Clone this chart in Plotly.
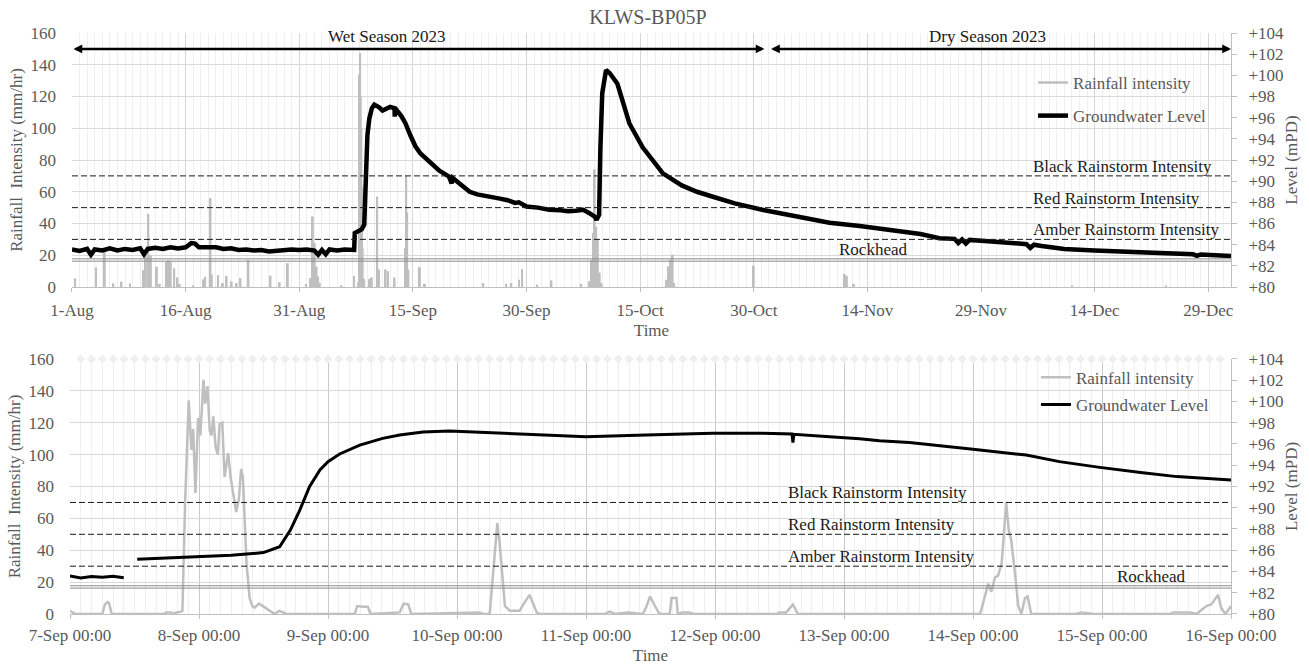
import pandas as pd
import plotly.graph_objects as go

# ---------------- DATA ----------------
# Top panel: rainfall spikes (mm/hr)
TOP_RAIN_TIME = [
    "2023-08-01 10:00", "2023-08-04 04:00", "2023-08-05 08:00", "2023-08-06 11:00", "2023-08-07 13:00", "2023-08-08 16:00",
    "2023-08-10 10:00", "2023-08-10 18:00", "2023-08-11 02:00", "2023-08-11 10:00", "2023-08-12 05:00", "2023-08-12 14:00",
    "2023-08-13 10:00", "2023-08-13 17:00", "2023-08-14 01:00", "2023-08-14 12:00", "2023-08-14 22:00", "2023-08-15 05:00",
    "2023-08-17 00:00", "2023-08-18 07:00", "2023-08-18 14:00", "2023-08-19 07:00", "2023-08-19 11:00", "2023-08-20 07:00",
    "2023-08-20 22:00", "2023-08-21 10:00", "2023-08-22 02:00", "2023-08-22 18:00", "2023-08-23 06:00", "2023-08-24 07:00",
    "2023-08-27 05:00", "2023-08-28 10:00", "2023-08-29 12:00", "2023-08-31 22:00", "2023-09-01 12:00", "2023-09-01 19:00",
    "2023-09-02 01:00", "2023-09-02 07:00", "2023-09-02 12:00", "2023-09-02 17:00", "2023-09-05 14:00", "2023-09-07 06:00",
    "2023-09-07 21:00", "2023-09-07 23:00", "2023-09-08 01:00", "2023-09-08 03:00", "2023-09-08 05:00", "2023-09-08 07:00",
    "2023-09-08 09:00", "2023-09-08 14:00", "2023-09-09 06:00", "2023-09-09 14:00", "2023-09-10 07:00", "2023-09-10 13:00",
    "2023-09-11 10:00", "2023-09-11 17:00", "2023-09-12 14:00", "2023-09-14 00:00", "2023-09-14 03:00", "2023-09-14 06:00",
    "2023-09-14 10:00", "2023-09-15 22:00", "2023-09-16 14:00", "2023-09-24 07:00", "2023-09-27 07:00", "2023-09-28 00:00",
    "2023-09-29 00:00", "2023-09-29 10:00", "2023-10-01 10:00", "2023-10-03 07:00", "2023-10-07 05:00", "2023-10-08 07:00",
    "2023-10-08 14:00", "2023-10-08 19:00", "2023-10-09 00:00", "2023-10-09 05:00", "2023-10-09 10:00", "2023-10-09 16:00",
    "2023-10-09 22:00", "2023-10-18 12:00", "2023-10-18 19:00", "2023-10-18 23:00", "2023-10-19 03:00", "2023-10-19 07:00",
    "2023-10-19 12:00", "2023-10-30 00:00", "2023-11-11 00:00", "2023-11-11 07:00", "2023-11-12 05:00", "2023-12-11 00:00",
    "2023-12-23 10:00",
]
TOP_RAIN_MMHR = [
    5.5, 12.4, 22.3, 2.3, 3.4, 2.3,
    10.7, 20.5, 46, 20, 12.8, 2,
    16, 17, 16, 11.8, 6, 2,
    1, 4.8, 6.5, 56, 8, 7.5,
    2.5, 7, 3.5, 2.5, 5.5, 17,
    7.1, 3, 15, 2, 5.7, 44.5,
    27.7, 13, 6.7, 2.5, 1, 7,
    3, 134, 147.5, 120, 100, 63,
    25, 5, 5, 6, 57, 11,
    11, 10, 6, 24.6, 70, 47,
    11, 12.5, 2, 2.5, 2, 2.5,
    4.6, 11.3, 1.5, 4.2, 2, 3.6,
    17, 34, 74, 38, 30, 9,
    2.5, 4.6, 13, 17, 15, 20.4,
    2.5, 13.4, 8.2, 7, 2, 1,
    1,
]

# Top panel: groundwater level (mPD)
TOP_GW_TIME = [
    "2023-08-01 00:00", "2023-08-02 00:00", "2023-08-03 00:00", "2023-08-03 12:00", "2023-08-04 00:00", "2023-08-05 00:00",
    "2023-08-06 00:00", "2023-08-07 00:00", "2023-08-08 00:00", "2023-08-09 00:00", "2023-08-10 00:00", "2023-08-10 12:00",
    "2023-08-11 00:00", "2023-08-12 00:00", "2023-08-13 00:00", "2023-08-14 00:00", "2023-08-15 00:00", "2023-08-16 00:00",
    "2023-08-16 18:00", "2023-08-17 06:00", "2023-08-17 18:00", "2023-08-19 00:00", "2023-08-20 00:00", "2023-08-21 00:00",
    "2023-08-22 00:00", "2023-08-23 00:00", "2023-08-24 00:00", "2023-08-25 00:00", "2023-08-26 00:00", "2023-08-27 00:00",
    "2023-08-28 00:00", "2023-08-29 00:00", "2023-08-30 00:00", "2023-08-31 00:00", "2023-09-01 00:00", "2023-09-02 00:00",
    "2023-09-02 12:00", "2023-09-03 00:00", "2023-09-03 12:00", "2023-09-04 00:00", "2023-09-05 00:00", "2023-09-06 00:00",
    "2023-09-07 06:00", "2023-09-07 08:00", "2023-09-07 18:00", "2023-09-08 06:00", "2023-09-08 14:00", "2023-09-08 17:00",
    "2023-09-08 20:30", "2023-09-09 00:00", "2023-09-09 06:00", "2023-09-09 14:00", "2023-09-09 22:00", "2023-09-10 12:00",
    "2023-09-11 00:00", "2023-09-12 00:00", "2023-09-12 14:00", "2023-09-12 14:30", "2023-09-12 16:00", "2023-09-13 12:00",
    "2023-09-14 00:00", "2023-09-14 16:00", "2023-09-15 08:00", "2023-09-16 00:00", "2023-09-17 00:00", "2023-09-18 12:00",
    "2023-09-19 18:00", "2023-09-20 03:00", "2023-09-20 06:00", "2023-09-21 12:00", "2023-09-22 12:00", "2023-09-23 12:00",
    "2023-09-24 12:00", "2023-09-25 12:00", "2023-09-26 12:00", "2023-09-27 12:00", "2023-09-28 12:00", "2023-09-29 00:00",
    "2023-09-30 00:00", "2023-10-01 12:00", "2023-10-03 00:00", "2023-10-04 12:00", "2023-10-05 12:00", "2023-10-06 12:00",
    "2023-10-07 12:00", "2023-10-08 06:00", "2023-10-09 00:00", "2023-10-09 06:00", "2023-10-09 14:00", "2023-10-09 18:00",
    "2023-10-10 00:00", "2023-10-10 12:00", "2023-10-11 00:00", "2023-10-12 00:00", "2023-10-13 00:00", "2023-10-13 14:00",
    "2023-10-15 08:00", "2023-10-16 12:00", "2023-10-18 00:00", "2023-10-20 12:00", "2023-10-22 12:00", "2023-10-24 12:00",
    "2023-10-27 12:00", "2023-10-31 06:00", "2023-11-04 12:00", "2023-11-09 00:00", "2023-11-13 00:00", "2023-11-17 06:00",
    "2023-11-21 00:00", "2023-11-23 12:00", "2023-11-25 12:00", "2023-11-26 00:00", "2023-11-26 12:00", "2023-11-27 00:00",
    "2023-11-27 12:00", "2023-11-29 00:00", "2023-12-02 00:00", "2023-12-05 00:00", "2023-12-05 12:00", "2023-12-06 00:00",
    "2023-12-07 00:00", "2023-12-10 00:00", "2023-12-14 00:00", "2023-12-17 00:00", "2023-12-20 12:00", "2023-12-24 00:00",
    "2023-12-27 00:00", "2023-12-27 12:00", "2023-12-28 00:00", "2024-01-01 00:00",
]
TOP_GW_MPD = [
    83.55, 83.40, 83.60, 83.05, 83.55, 83.45,
    83.65, 83.45, 83.60, 83.50, 83.65, 83.10,
    83.60, 83.70, 83.60, 83.75, 83.65, 83.75,
    84.15, 84.10, 83.75, 83.70, 83.75, 83.60,
    83.65, 83.50, 83.55, 83.45, 83.50, 83.35,
    83.45, 83.50, 83.55, 83.50, 83.55, 83.45,
    83.05, 83.50, 83.10, 83.55, 83.45, 83.55,
    83.50, 85.10, 85.27, 85.45, 85.90, 87.90,
    92.00, 94.34, 95.90, 96.90, 97.22, 97.00,
    96.68, 97.01, 96.90, 96.10, 96.90, 96.13,
    95.50, 94.34, 93.30, 92.62, 92.00, 91.00,
    90.45, 89.80, 90.30, 89.50, 89.00, 88.75,
    88.65, 88.50, 88.35, 88.20, 87.95, 88.00,
    87.60, 87.50, 87.30, 87.25, 87.15, 87.20,
    87.30, 87.00, 86.65, 86.35, 86.80, 93.00,
    98.30, 100.50, 100.20, 99.20, 97.00, 95.45,
    93.20, 92.10, 90.74, 89.60, 89.00, 88.55,
    87.90, 87.28, 86.65, 86.08, 85.76, 85.39,
    85.00, 84.61, 84.55, 84.15, 84.50, 84.10,
    84.45, 84.38, 84.20, 84.05, 83.70, 84.00,
    83.87, 83.60, 83.44, 83.35, 83.29, 83.20,
    83.09, 82.95, 83.08, 82.93,
]

# Bottom panel (7-16 Sep): rainfall (mm/hr)
ZOOM_RAIN_TIME = [
    "2023-09-07 00:00", "2023-09-07 01:00", "2023-09-07 06:00", "2023-09-07 06:30", "2023-09-07 07:00", "2023-09-07 07:15",
    "2023-09-07 07:45", "2023-09-07 17:30", "2023-09-07 17:55", "2023-09-07 18:50", "2023-09-07 19:10", "2023-09-07 19:50",
    "2023-09-07 20:40", "2023-09-07 20:55", "2023-09-07 21:25", "2023-09-07 22:05", "2023-09-07 22:35", "2023-09-07 22:55",
    "2023-09-07 23:20", "2023-09-07 23:50", "2023-09-08 00:15", "2023-09-08 00:50", "2023-09-08 01:10", "2023-09-08 01:35",
    "2023-09-08 02:00", "2023-09-08 02:20", "2023-09-08 02:40", "2023-09-08 03:05", "2023-09-08 03:30", "2023-09-08 03:50",
    "2023-09-08 04:20", "2023-09-08 04:45", "2023-09-08 05:25", "2023-09-08 05:55", "2023-09-08 06:55", "2023-09-08 07:25",
    "2023-09-08 07:50", "2023-09-08 08:10", "2023-09-08 08:50", "2023-09-08 09:25", "2023-09-08 09:55", "2023-09-08 10:20",
    "2023-09-08 11:10", "2023-09-08 11:55", "2023-09-08 13:10", "2023-09-08 14:05", "2023-09-08 14:55", "2023-09-08 15:40",
    "2023-09-08 16:15", "2023-09-09 05:00", "2023-09-09 05:25", "2023-09-09 06:30", "2023-09-09 07:25", "2023-09-09 07:55",
    "2023-09-09 11:50", "2023-09-09 13:20", "2023-09-09 14:05", "2023-09-09 14:55", "2023-09-09 15:30", "2023-09-10 03:00",
    "2023-09-10 04:15", "2023-09-10 04:50", "2023-09-10 06:05", "2023-09-10 07:30", "2023-09-10 07:55", "2023-09-10 08:55",
    "2023-09-10 09:50", "2023-09-10 11:40", "2023-09-10 12:20", "2023-09-10 13:30", "2023-09-10 14:50", "2023-09-10 15:25",
    "2023-09-11 03:30", "2023-09-11 04:25", "2023-09-11 05:20", "2023-09-11 07:50", "2023-09-11 10:35", "2023-09-11 11:10",
    "2023-09-11 11:55", "2023-09-11 12:50", "2023-09-11 13:40", "2023-09-11 15:35", "2023-09-11 15:55", "2023-09-11 16:50",
    "2023-09-11 17:05", "2023-09-11 18:00", "2023-09-11 19:15", "2023-09-11 19:55", "2023-09-12 11:25", "2023-09-12 12:00",
    "2023-09-12 13:15", "2023-09-12 14:30", "2023-09-12 15:25", "2023-09-14 01:20", "2023-09-14 01:55", "2023-09-14 02:50",
    "2023-09-14 03:25", "2023-09-14 04:05", "2023-09-14 04:40", "2023-09-14 05:20", "2023-09-14 05:45", "2023-09-14 06:10",
    "2023-09-14 06:40", "2023-09-14 07:05", "2023-09-14 07:50", "2023-09-14 08:25", "2023-09-14 09:00", "2023-09-14 09:40",
    "2023-09-14 10:10", "2023-09-14 10:50", "2023-09-14 19:10", "2023-09-14 20:10", "2023-09-14 21:25", "2023-09-14 22:20",
    "2023-09-15 12:35", "2023-09-15 13:10", "2023-09-15 16:20", "2023-09-15 17:35", "2023-09-15 19:25", "2023-09-15 20:20",
    "2023-09-15 21:35", "2023-09-15 22:10", "2023-09-15 22:50", "2023-09-15 23:05", "2023-09-16 00:00",
]
ZOOM_RAIN_MMHR = [
    2, 0, 0, 6, 7.5, 7,
    0, 0, 1, 1, 0, 1,
    1.5, 2, 70, 134, 103, 116,
    76, 123, 112, 147, 132, 143,
    115, 112, 124, 105, 100, 119,
    120, 86, 101, 85, 64, 72,
    91, 86, 32, 10, 5, 4,
    6.5, 5, 2, 0, 2, 1,
    0, 0, 5, 4.5, 4.5, 0,
    1, 1, 6.5, 6, 0, 1,
    1, 0, 0, 57, 45, 5,
    2, 2, 6, 12, 1, 0,
    0, 1.5, 0, 1, 0, 4,
    11, 5, 0, 0, 10, 10,
    0, 1, 1, 0, 0, 1,
    1, 6, 0, 0, 8, 19,
    14, 23, 24, 32, 50, 70,
    52, 47, 25, 5, 0, 10,
    11, 0, 0, 1, 0.5, 0,
    0, 1, 1, 0, 5, 6,
    12, 4, 0.5, 0.5, 5,
]

# Bottom panel (7-16 Sep): groundwater level (mPD); None = logger gap
ZOOM_GW_TIME = [
    "2023-09-07 00:00", "2023-09-07 02:00", "2023-09-07 04:00", "2023-09-07 06:00", "2023-09-07 08:00", "2023-09-07 10:00",
    "2023-09-07 11:00", "2023-09-07 12:30", "2023-09-07 18:00", "2023-09-08 00:00", "2023-09-08 06:00", "2023-09-08 12:00",
    "2023-09-08 15:00", "2023-09-08 17:00", "2023-09-08 18:45", "2023-09-08 20:35", "2023-09-08 22:30", "2023-09-09 00:00",
    "2023-09-09 02:10", "2023-09-09 05:55", "2023-09-09 10:10", "2023-09-09 13:20", "2023-09-09 17:40", "2023-09-09 22:35",
    "2023-09-10 07:20", "2023-09-11 00:00", "2023-09-11 11:10", "2023-09-11 23:35", "2023-09-12 08:55", "2023-09-12 14:20",
    "2023-09-12 14:30", "2023-09-12 14:40", "2023-09-12 21:20", "2023-09-13 02:55", "2023-09-13 06:35", "2023-09-13 12:10",
    "2023-09-14 00:00", "2023-09-14 09:55", "2023-09-14 16:05", "2023-09-14 23:35", "2023-09-15 07:35", "2023-09-15 13:55",
    "2023-09-16 00:00",
]
ZOOM_GW_MPD = [
    83.57, 83.38, 83.53, 83.46, 83.55, 83.42,
    None, 85.15, 85.27, 85.33, 85.52, 85.78,
    86.33, 87.90, 89.78, 92.00, 93.55, 94.34,
    95.06, 95.90, 96.53, 96.85, 97.13, 97.22,
    97.01, 96.68, 96.85, 97.01, 97.01, 96.95,
    96.13, 96.92, 96.68, 96.50, 96.30, 96.13,
    95.50, 94.96, 94.34, 93.80, 93.30, 92.93,
    92.62,
]

THRESHOLD_NAMES = ["Black Rainstorm Intensity", "Red Rainstorm Intensity", "Amber Rainstorm Intensity"]
THRESHOLD_MMHR = [70, 50, 30]
ROCKHEAD_MPD = 82.55
SEASON_NAMES = ["Wet Season 2023", "Dry Season 2023"]
SEASON_START = ["2023-08-01 00:00", "2023-11-01 02:00"]
SEASON_END = ["2023-10-31 10:00", "2024-01-01 00:00"]
SEASON_ARROW_MMHR = 150

# ---------------- STYLE ----------------
FONT = "Liberation Serif, Times New Roman, serif"
GREY_TXT = "#595959"
RAIN_COLOR = "#bfbfbf"
GRID = "#d9d9d9"
MINOR_GRID = "#efefef"
AXLINE = "#bfbfbf"
DAY_MS = 86400000
HOUR_MS = 3600000

fig = go.Figure()

# ---- top panel ----
fig.add_trace(go.Bar(x=TOP_RAIN_TIME, y=TOP_RAIN_MMHR, width=6 * HOUR_MS,
                     marker=dict(color=RAIN_COLOR, line=dict(width=0)),
                     xaxis="x", yaxis="y", showlegend=False, legendgroup="rain",
                     name="Rainfall intensity"))
fig.add_trace(go.Scatter(x=[None], y=[None], mode="lines", name="Rainfall intensity",
                         line=dict(color=RAIN_COLOR, width=2.5), xaxis="x", yaxis="y",
                         legend="legend", legendgroup="rain"))
fig.add_trace(go.Scatter(x=TOP_GW_TIME, y=TOP_GW_MPD, mode="lines", name="Groundwater Level",
                         line=dict(color="black", width=4.5), xaxis="x", yaxis="y2",
                         legend="legend", legendgroup="gw"))

# ---- bottom panel ----
marker_row_time = pd.date_range("2023-09-07 02:00", "2023-09-15 22:00", freq="2h")
fig.add_trace(go.Scatter(x=marker_row_time, y=[160] * len(marker_row_time), mode="markers",
                         marker=dict(symbol="diamond", size=7, color="#efefef"),
                         xaxis="x2", yaxis="y3", showlegend=False, cliponaxis=False,
                         hoverinfo="skip"))
fig.add_trace(go.Scatter(x=ZOOM_RAIN_TIME, y=ZOOM_RAIN_MMHR, mode="lines", name="Rainfall intensity",
                         line=dict(color=RAIN_COLOR, width=2.5), xaxis="x2", yaxis="y3",
                         legend="legend2", legendgroup="rain2"))
fig.add_trace(go.Scatter(x=ZOOM_GW_TIME, y=ZOOM_GW_MPD, mode="lines", name="Groundwater Level",
                         line=dict(color="black", width=3), xaxis="x2", yaxis="y4",
                         connectgaps=False, legend="legend2", legendgroup="gw2"))

# ---- shapes: thresholds & rockhead ----
shapes = []
for yref in ["y", "y3"]:
    xref = "x domain" if yref == "y" else "x2 domain"
    for v in THRESHOLD_MMHR:
        shapes.append(dict(type="line", xref=xref, yref=yref, x0=0, x1=1, y0=v, y1=v,
                           line=dict(color="#1a1a1a", width=1, dash="6px,3px")))
for yref, xref in [("y2", "x domain"), ("y4", "x2 domain")]:
    for off in (-0.11, 0.11):
        shapes.append(dict(type="line", xref=xref, yref=yref, x0=0, x1=1,
                           y0=ROCKHEAD_MPD + off, y1=ROCKHEAD_MPD + off,
                           line=dict(color="#8c8c8c", width=1)))

txt_font = dict(family=FONT, size=17, color="#1a1a1a")
annotations = []
# season arrows + labels
season_label_x = ["2023-09-11 14:00", "2023-11-29 19:00"]
for name, s, e, lx in zip(SEASON_NAMES, SEASON_START, SEASON_END, season_label_x):
    annotations.append(dict(x=e, y=SEASON_ARROW_MMHR, ax=s, ay=SEASON_ARROW_MMHR,
                            xref="x", yref="y", axref="x", ayref="y", text="",
                            showarrow=True, arrowside="end+start", arrowhead=2,
                            startarrowhead=2, arrowsize=0.7, startarrowsize=0.7,
                            arrowwidth=2.5, arrowcolor="black", standoff=0, startstandoff=0))
    annotations.append(dict(x=lx, y=157.8, xref="x", yref="y", text=name, showarrow=False,
                            xanchor="center", yanchor="middle", font=txt_font))
# threshold labels
for xr, yr, lx in [("x", "y", "2023-12-05 14:00"), ("x2", "y3", "2023-09-12 13:10")]:
    for name, v in zip(THRESHOLD_NAMES, THRESHOLD_MMHR):
        annotations.append(dict(x=lx, y=v, xref=xr, yref=yr, text=name, showarrow=False,
                                xanchor="left", yanchor="bottom", yshift=-2, font=txt_font))
# rockhead labels
for xr, yr, lx in [("x", "y2", "2023-11-14 17:00"), ("x2", "y4", "2023-09-15 09:05")]:
    annotations.append(dict(x=lx, y=ROCKHEAD_MPD, xref=xr, yref=yr, text="Rockhead",
                            showarrow=False, xanchor="center", yanchor="bottom", yshift=-1,
                            font=txt_font))

axis_font = dict(family=FONT, size=17, color=GREY_TXT)

common_y_left = dict(range=[0, 160], dtick=20, showgrid=True, gridcolor=GRID, gridwidth=1,
                     zeroline=False, showline=False, ticks="", ticklabelstandoff=15,
                     automargin=False, tickfont=axis_font,
                     title=dict(text="Rainfall \u00a0Intensity (mm/hr)", font=axis_font, standoff=3))
common_y_right = dict(range=[80, 104], dtick=2, tickprefix="+", showgrid=False, zeroline=False,
                      showline=True, linecolor=AXLINE, linewidth=1, ticks="outside", ticklen=5,
                      tickcolor=AXLINE, ticklabelstandoff=8, tickfont=axis_font, side="right",
                      automargin=False,
                      title=dict(text="Level (mPD)", font=axis_font, standoff=2))

fig.update_layout(
    width=1309, height=665,
    margin=dict(l=70, r=78, t=33, b=51, autoexpand=False),
    paper_bgcolor="white", plot_bgcolor="white",
    font=dict(family=FONT, size=17, color=GREY_TXT),
    title=dict(text="KLWS-BP05P", x=0.495, xref="container", xanchor="center",
               y=0.975, yref="container", yanchor="middle",
               font=dict(family=FONT, size=20, color=GREY_TXT)),
    barmode="overlay",
    showlegend=True,
    xaxis=dict(domain=[0.0017, 1], anchor="y", type="date", automargin=False,
               range=["2023-08-01", "2024-01-01"], tick0="2023-08-01", dtick=15 * DAY_MS,
               tickformat="%-d-%b", showgrid=True, gridcolor="#d6d6d6",
               minor=dict(dtick=DAY_MS, tick0="2023-08-01", showgrid=True, gridcolor=MINOR_GRID),
               showline=True, linecolor=AXLINE, ticks="outside", ticklen=4, tickcolor=AXLINE,
               ticklabelstandoff=4, tickfont=axis_font, zeroline=False,
               title=dict(text="Time", font=axis_font, standoff=4)),
    yaxis=dict(domain=[0.5628, 1], anchor="x", **common_y_left),
    yaxis2=dict(anchor="x", overlaying="y", **common_y_right),
    xaxis2=dict(domain=[0, 1], anchor="y3", type="date", automargin=False,
                range=["2023-09-07", "2023-09-16"], tick0="2023-09-07", dtick=DAY_MS,
                tickformat="%-d-%b %H:%M", showgrid=True, gridcolor="#c9c9c9",
                minor=dict(dtick=2 * HOUR_MS, tick0="2023-09-07", showgrid=True, gridcolor=MINOR_GRID),
                showline=True, linecolor=AXLINE, ticks="outside", ticklen=4, tickcolor=AXLINE,
                ticklabelstandoff=2, tickfont=axis_font, zeroline=False,
                title=dict(text="Time", font=axis_font, standoff=8)),
    yaxis3=dict(domain=[0, 0.4389], anchor="x2", **common_y_left),
    yaxis4=dict(anchor="x2", overlaying="y3", **common_y_right),
    legend=dict(x=0.8295, y=0.945, xanchor="left", yanchor="top", bgcolor="rgba(0,0,0,0)",
                font=dict(family=FONT, size=17, color=GREY_TXT), traceorder="grouped",
                tracegroupgap=8, itemwidth=30),
    legend2=dict(x=0.832, y=0.4375, xanchor="left", yanchor="top", bgcolor="rgba(0,0,0,0)",
                 font=dict(family=FONT, size=17, color=GREY_TXT), traceorder="grouped",
                 tracegroupgap=2, itemwidth=30),
    shapes=shapes,
    annotations=annotations,
)

fig.write_html("out.html")
